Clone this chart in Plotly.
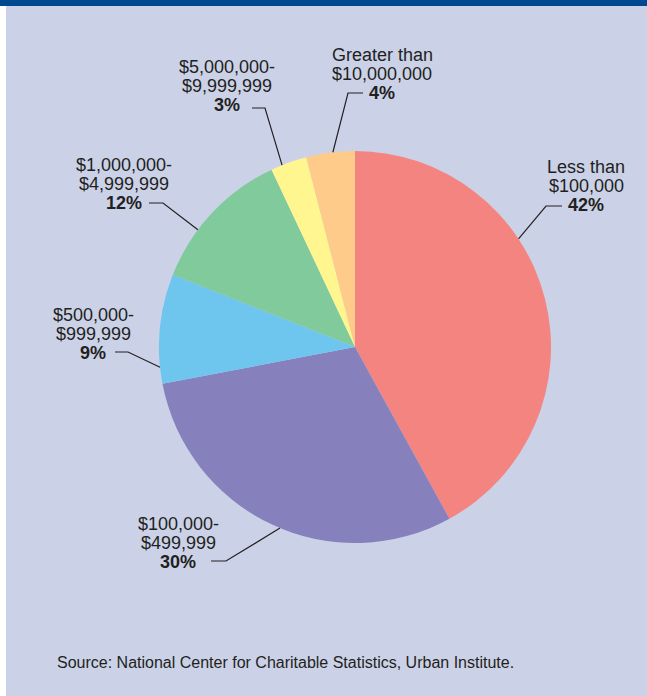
import math
import plotly.graph_objects as go

# Distribution of organizations by size of budget
categories = [
    "Less than $100,000",
    "$100,000-$499,999",
    "$500,000-$999,999",
    "$1,000,000-$4,999,999",
    "$5,000,000-$9,999,999",
    "Greater than $10,000,000",
]
shares = [42, 30, 9, 12, 3, 4]
label_lines = [
    ["Less than", "$100,000"],
    ["$100,000-", "$499,999"],
    ["$500,000-", "$999,999"],
    ["$1,000,000-", "$4,999,999"],
    ["$5,000,000-", "$9,999,999"],
    ["Greater than", "$10,000,000"],
]
slice_colors = ["#F4847F", "#8680BC", "#6EC5EE", "#80CA9B", "#FFF68F", "#FECB8B"]

W, H = 647, 696
BG = "#CBD2E8"
INK = "#231F20"
FONT = "Liberation Sans, Arial, sans-serif"

# Pie placement (pixels)
CX, CY, R = 355, 347, 196

# Label layout: where along the slice the leader touches the rim (0..1),
# elbow point, end of horizontal tick, text centre x, first-line y
label_layout = [
    dict(frac=0.374, elbow=(546, 206), end=(562, 206), tx=586, ty=167),
    dict(frac=0.475, elbow=(226, 561), end=(211, 561), tx=178, ty=524),
    dict(frac=0.151, elbow=(128, 352), end=(115, 352), tx=93, ty=315),
    dict(frac=0.350, elbow=(163, 203), end=(149, 203), tx=124, ty=165),
    dict(frac=0.310, elbow=(265, 108), end=(252, 108), tx=227, ty=67),
    dict(frac=0.550, elbow=(348, 93), end=(363, 93), tx=382, ty=55),
]
LINE_STEP = 19


def px(x):
    return x / W


def py(y):
    return 1 - y / H


fig = go.Figure(
    go.Pie(
        labels=categories,
        values=shares,
        sort=False,
        direction="clockwise",
        rotation=0,
        marker=dict(colors=slice_colors, line=dict(width=0)),
        textinfo="none",
        hoverinfo="label+percent",
        showlegend=False,
        domain=dict(x=[px(CX - R), px(CX + R)], y=[py(CY + R), py(CY - R)]),
    )
)

shapes = [
    # top rule and left margin strip
    dict(type="rect", xref="paper", yref="paper", x0=0, x1=1, y0=py(6), y1=1,
         fillcolor="#004990", line=dict(width=0), layer="above"),
    dict(type="rect", xref="paper", yref="paper", x0=0, x1=px(6), y0=0, y1=py(6),
         fillcolor="white", line=dict(width=0), layer="below"),
]
annotations = []

total = sum(shares)
cum = 0
for val, lines, lay in zip(shares, label_lines, label_layout):
    ang = math.radians((cum + lay["frac"] * val) / total * 360)
    cum += val
    rx, ry = CX + R * math.sin(ang), CY - R * math.cos(ang)
    ex, ey = lay["elbow"]
    hx, hy = lay["end"]
    path = f"M {px(rx)} {py(ry)} L {px(ex)} {py(ey)} L {px(hx)} {py(hy)}"
    shapes.append(dict(type="path", xref="paper", yref="paper", path=path,
                       line=dict(color=INK, width=1.2)))
    texts = lines + [f"<b>{val}%</b>"]
    for i, t in enumerate(texts):
        annotations.append(dict(
            x=px(lay["tx"]), y=py(lay["ty"] + i * LINE_STEP), xref="paper", yref="paper",
            text=t, showarrow=False, xanchor="center", yanchor="middle",
            font=dict(family=FONT, size=18, color=INK),
        ))

annotations.append(dict(
    x=px(55), y=py(662), xref="paper", yref="paper", xanchor="left", yanchor="middle",
    text="Source: National Center for Charitable Statistics, Urban Institute.",
    showarrow=False, font=dict(family=FONT, size=16, color=INK),
))

fig.update_layout(
    width=W, height=H,
    margin=dict(l=0, r=0, t=0, b=0),
    paper_bgcolor=BG, plot_bgcolor=BG,
    shapes=shapes, annotations=annotations,
)

fig.write_html("out.html", config={"displayModeBar": False})
